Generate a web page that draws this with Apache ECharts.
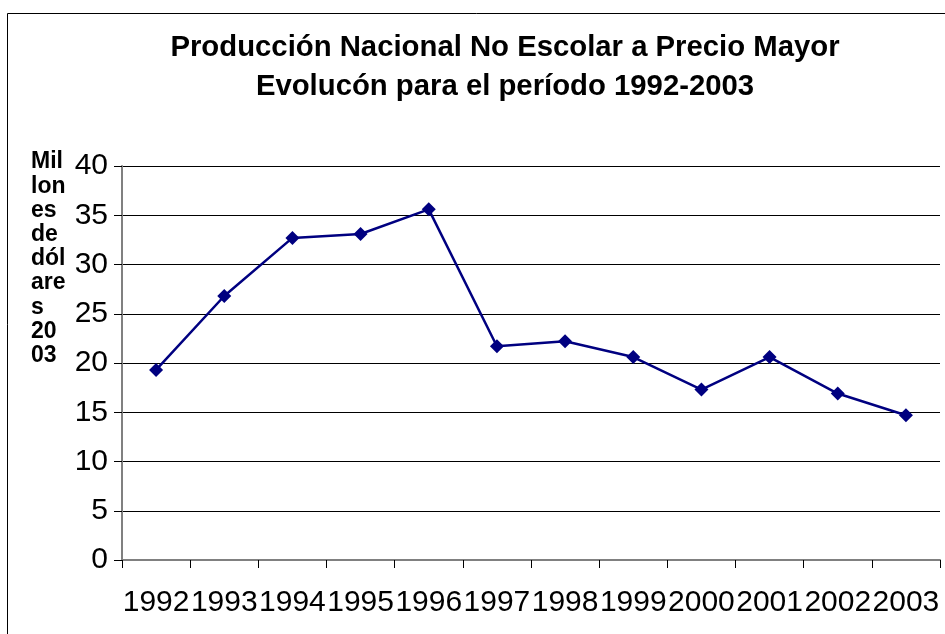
<!DOCTYPE html>
<html>
<head>
<meta charset="utf-8">
<script src="https://cdn.jsdelivr.net/npm/echarts@6/dist/echarts.min.js"></script>
<style>
  html, body { margin: 0; padding: 0; background: #ffffff; }
  #chart { width: 945px; height: 634px; }
</style>
</head>
<body>
<div id="chart"></div>
<script>
// Años del periodo
const years = ['1992', '1993', '1994', '1995', '1996', '1997', '1998', '1999', '2000', '2001', '2002', '2003'];
// Producción nacional no escolar, millones de dólares de 2003
const produccion = [19.3, 26.8, 32.7, 33.1, 35.6, 21.7, 22.2, 20.6, 17.3, 20.6, 16.9, 14.7];
// Escala del eje vertical
const yMin = 0;
const yMax = 40;
const yStep = 5;

const titleLines = ['Producción Nacional No Escolar a Precio Mayor', 'Evolucón para el período 1992-2003'];
const yAxisNameLines = ['Mil', 'lon', 'es', 'de', 'dól', 'are', 's', '20', '03'];

const FONT = '"Liberation Sans", Arial, sans-serif';

const chart = echarts.init(document.getElementById('chart'), null, { renderer: 'canvas' });

chart.setOption({
  backgroundColor: '#ffffff',
  animation: false,
  title: {
    text: titleLines.join('\n'),
    left: 500,
    top: 23,
    textAlign: 'center',
    textStyle: {
      fontFamily: FONT,
      fontWeight: 'bold',
      fontSize: 29.3,
      lineHeight: 39,
      color: '#000000'
    }
  },
  graphic: [
    {
      type: 'rect',
      left: 5,
      top: 11,
      shape: { width: 1000, height: 700 },
      style: { fill: 'none', stroke: '#000000', lineWidth: 1 },
      silent: true,
      z: -1
    },
    {
      type: 'text',
      left: 31,
      top: 150,
      style: {
        text: yAxisNameLines.join('\n'),
        fontFamily: FONT,
        fontWeight: 'bold',
        fontSize: 23,
        lineHeight: 24.2,
        fill: '#000000'
      }
    }
  ],
  grid: {
    left: 122,
    right: 5,
    top: 166,
    bottom: 74,
    containLabel: false
  },
  xAxis: {
    type: 'category',
    data: years,
    boundaryGap: true,
    axisLine: { show: true, lineStyle: { color: '#808080', width: 2 } },
    axisTick: { show: true, inside: false, length: 8, alignWithLabel: false, lineStyle: { color: '#000000', width: 1 } },
    axisLabel: {
      interval: 0,
      margin: 28,
      fontFamily: FONT,
      fontSize: 30,
      color: '#000000'
    },
    splitLine: { show: false }
  },
  yAxis: {
    type: 'value',
    min: yMin,
    max: yMax,
    interval: yStep,
    axisLine: { show: true, lineStyle: { color: '#808080', width: 2 } },
    axisTick: { show: true, inside: false, length: 8, lineStyle: { color: '#000000', width: 1 } },
    axisLabel: {
      margin: 14,
      fontFamily: FONT,
      fontSize: 30,
      color: '#000000'
    },
    splitLine: { show: true, lineStyle: { color: '#000000', width: 1 } }
  },
  series: [
    {
      type: 'line',
      data: produccion,
      symbol: 'diamond',
      symbolSize: 14,
      lineStyle: { color: '#000080', width: 2.5 },
      itemStyle: { color: '#000080' },
      label: { show: false }
    }
  ]
});
</script>
</body>
</html>
